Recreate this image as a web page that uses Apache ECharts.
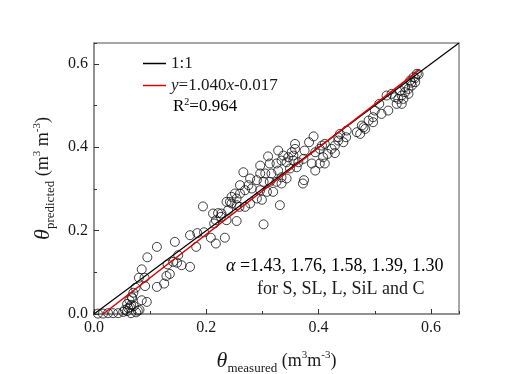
<!DOCTYPE html>
<html>
<head>
<meta charset="utf-8">
<script src="https://cdn.jsdelivr.net/npm/echarts@6/dist/echarts.min.js"></script>
<style>
  html, body { margin: 0; padding: 0; background: #fff; }
  #chart { width: 531px; height: 374px; }
</style>
</head>
<body>
<div id="chart"></div>
<script>
// measured vs predicted soil water content (m3 m-3)
var measured = [
  0.007, 0.016, 0.025, 0.034, 0.043, 0.052, 0.059, 0.066, 0.075, 0.078,
  0.055, 0.061, 0.066, 0.071, 0.064, 0.059, 0.063, 0.067, 0.070, 0.074,
  0.068, 0.085, 0.094, 0.081, 0.080, 0.090, 0.085, 0.095, 0.112, 0.091,
  0.112, 0.125, 0.129, 0.135, 0.131, 0.141, 0.148, 0.156, 0.171, 0.144,
  0.150, 0.194, 0.171, 0.182, 0.184, 0.196, 0.208, 0.217, 0.233, 0.212,
  0.221, 0.227, 0.217, 0.226, 0.214, 0.236, 0.236, 0.245, 0.254, 0.254,
  0.239, 0.260, 0.275, 0.281, 0.269, 0.260, 0.251, 0.245, 0.254, 0.242,
  0.259, 0.269, 0.290, 0.278, 0.266, 0.302, 0.331, 0.374, 0.372, 0.391,
  0.383, 0.358, 0.358, 0.406, 0.402, 0.423, 0.429, 0.416, 0.408, 0.435,
  0.449, 0.444, 0.450, 0.328, 0.310, 0.352, 0.355, 0.346, 0.337, 0.375,
  0.296, 0.313, 0.325, 0.334, 0.343, 0.355, 0.364, 0.373, 0.388, 0.402,
  0.411, 0.305, 0.296, 0.316, 0.328, 0.349, 0.361, 0.394, 0.278, 0.290,
  0.302, 0.313, 0.325, 0.334, 0.343, 0.296, 0.319, 0.308, 0.334, 0.299,
  0.394, 0.411, 0.438, 0.468, 0.480, 0.474, 0.575, 0.569, 0.563, 0.572,
  0.566, 0.560, 0.554, 0.548, 0.542, 0.551, 0.539, 0.548, 0.560, 0.554,
  0.530, 0.521, 0.545, 0.524, 0.512, 0.497, 0.500, 0.508, 0.489, 0.497,
  0.477, 0.483, 0.435, 0.429, 0.536, 0.578, 0.572, 0.565
];
var predicted = [
  0.001, 0.001, 0.002, 0.002, 0.002, 0.005, 0.007, 0.002, 0.004, 0.008,
  0.010, 0.014, 0.022, 0.019, 0.016, 0.024, 0.033, 0.041, 0.051, 0.063,
  0.038, 0.033, 0.029, 0.010, 0.087, 0.087, 0.107, 0.136, 0.161, 0.067,
  0.065, 0.073, 0.091, 0.096, 0.119, 0.125, 0.123, 0.117, 0.113, 0.173,
  0.141, 0.258, 0.189, 0.161, 0.194, 0.196, 0.183, 0.169, 0.183, 0.241,
  0.242, 0.241, 0.225, 0.233, 0.217, 0.225, 0.269, 0.265, 0.261, 0.223,
  0.249, 0.309, 0.309, 0.301, 0.297, 0.289, 0.289, 0.281, 0.277, 0.269,
  0.257, 0.257, 0.277, 0.265, 0.340, 0.215, 0.261, 0.321, 0.313, 0.426,
  0.412, 0.408, 0.396, 0.404, 0.396, 0.396, 0.386, 0.384, 0.376, 0.424,
  0.424, 0.412, 0.440, 0.392, 0.378, 0.388, 0.380, 0.376, 0.380, 0.392,
  0.356, 0.361, 0.361, 0.368, 0.364, 0.368, 0.364, 0.372, 0.361, 0.361,
  0.361, 0.337, 0.337, 0.337, 0.344, 0.349, 0.352, 0.344, 0.325, 0.321,
  0.317, 0.317, 0.317, 0.328, 0.325, 0.297, 0.293, 0.293, 0.313, 0.274,
  0.388, 0.408, 0.432, 0.436, 0.448, 0.432, 0.576, 0.568, 0.560, 0.556,
  0.548, 0.540, 0.532, 0.524, 0.516, 0.516, 0.504, 0.504, 0.528, 0.544,
  0.528, 0.524, 0.536, 0.488, 0.480, 0.472, 0.488, 0.504, 0.464, 0.460,
  0.452, 0.444, 0.416, 0.404, 0.520, 0.575, 0.566, 0.555
];

// fitted line y = 1.040x - 0.017, drawn over the range of the data
var fitSlope = 1.040;
var fitIntercept = -0.017;
var fitRange = [0.0163, 0.58];
var oneToOne = [[0, 0], [0.65, 0.65]];
var axisMax = 0.65;
var alphaText = ['1.43', '1.76', '1.58', '1.39', '1.30'];

var points = measured.map(function (m, i) {
    return [m, predicted[i]];
});
var fitLine = fitRange.map(function (x) {
    return [x, fitSlope * x + fitIntercept];
});

var font = 'Liberation Serif';
var txt = '#1a1a1a';
var boxColor = '#8a8a8a';

var nameRich = {
    t: { fontFamily: font, fontStyle: 'italic', fontSize: 22, color: txt, lineHeight: 28 },
    s: { fontFamily: font, fontSize: 13, color: txt, verticalAlign: 'bottom', lineHeight: 28 },
    n: { fontFamily: font, fontSize: 18, color: txt, lineHeight: 28 },
    p: { fontFamily: font, fontSize: 11, color: txt, verticalAlign: 'top', lineHeight: 28, padding: [3, 0, 0, 0] }
};

function mainAxis(name, gap) {
    return {
        type: 'value',
        min: 0,
        max: axisMax,
        interval: 0.2,
        name: name,
        nameLocation: 'middle',
        nameGap: gap,
        nameTextStyle: { rich: nameRich },
        axisLine: { show: true, lineStyle: { color: boxColor, width: 1.5 } },
        axisTick: { show: true, inside: true, length: 5, lineStyle: { color: '#333' } },
        axisLabel: {
            fontFamily: font, fontSize: 16, color: txt, margin: 6,
            showMaxLabel: false,
            formatter: function (v) { return v.toFixed(1); }
        },
        splitLine: { show: false }
    };
}
function minorAxis(pos) {
    return {
        type: 'value',
        min: 0,
        max: axisMax,
        interval: 0.1,
        position: pos,
        axisLine: { show: false },
        axisTick: { show: true, inside: true, length: 3, lineStyle: { color: '#333' } },
        axisLabel: { show: false },
        splitLine: { show: false }
    };
}

var chart = echarts.init(document.getElementById('chart'));
var option = {
    backgroundColor: '#fff',
    animation: false,
    grid: {
        left: 94, right: 72, top: 43, bottom: 60,
        outerBoundsMode: 'none',
        show: true, borderColor: boxColor, borderWidth: 1.5
    },
    xAxis: [
        mainAxis('{t|θ}{s|measured}{n| (m}{p|3}{n|m}{p|-3}{n|)}', 33),
        minorAxis('bottom')
    ],
    yAxis: [
        mainAxis('{t|θ}{s|predicted}{n| (m}{p|3}{n| m}{p|-3}{n|)}', 25),
        minorAxis('left')
    ],
    legend: {
        orient: 'vertical',
        left: 143,
        top: 53,
        padding: 0,
        itemGap: 1,
        itemWidth: 23,
        itemHeight: 1.5,
        icon: 'rect',
        data: ['1:1', 'fit'],
        textStyle: {
            fontFamily: font, fontSize: 17, color: txt, lineHeight: 21,
            rich: {
                i: { fontFamily: font, fontStyle: 'italic', fontSize: 17, color: txt },
                n: { fontFamily: font, fontSize: 17, color: txt }
            }
        },
        formatter: function (name) {
            if (name === 'fit') {
                return '{i|y}{n|=' + fitSlope.toFixed(3) + '}{i|x}{n|' + fitIntercept.toFixed(3) + '}';
            }
            return name;
        }
    },
    graphic: [
        {
            type: 'text', left: 173, top: 97,
            style: {
                text: '{n|R}{p|2}{n|=0.964}',
                rich: {
                    n: { fontFamily: font, fontSize: 17, color: txt, lineHeight: 20 },
                    p: { fontFamily: font, fontSize: 10, color: txt, verticalAlign: 'top', lineHeight: 20 }
                }
            }
        },
        {
            type: 'text', left: 226, top: 257,
            style: {
                text: '{a|α}{n| =' + alphaText.join(', ') + '}',
                rich: {
                    a: { fontFamily: font, fontStyle: 'italic', fontSize: 18, color: txt },
                    n: { fontFamily: font, fontSize: 18, color: txt }
                }
            }
        },
        {
            type: 'text', left: 257, top: 280,
            style: { text: 'for S, SL, L, SiL and C', fontFamily: font, fontSize: 18, fill: txt }
        }
    ],
    series: [
        {
            type: 'scatter',
            name: 'data',
            data: points,
            symbol: 'circle',
            symbolSize: 9,
            itemStyle: { color: 'rgba(255,255,255,0)', borderColor: '#111', borderWidth: 1 },
            z: 2
        },
        {
            type: 'line',
            name: '1:1',
            data: oneToOne,
            symbol: 'none',
            lineStyle: { color: '#000', width: 1.2 },
            itemStyle: { color: '#000' },
            z: 3
        },
        {
            type: 'line',
            name: 'fit',
            data: fitLine,
            symbol: 'none',
            lineStyle: { color: '#e00000', width: 1.5 },
            itemStyle: { color: '#e00000' },
            z: 4
        }
    ]
};
chart.setOption(option);
</script>
</body>
</html>
